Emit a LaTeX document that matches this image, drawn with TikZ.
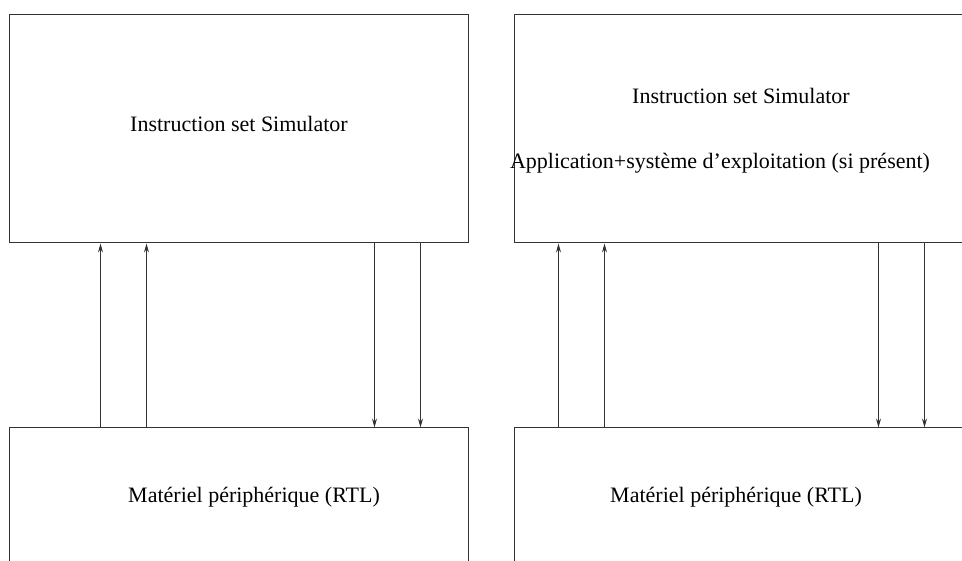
\documentclass[tikz,border=0pt]{standalone}
\usepackage{fontspec}
\setmainfont{Liberation Serif}
\usetikzlibrary{arrows.meta}
\begin{document}
\begin{tikzpicture}[x=1pt, y=-1pt, >={Stealth[length=9pt,width=5pt,inset=3pt]},
    line width=1pt, draw=black!80,
    box/.style={draw=black!80, rectangle, minimum width=459pt, minimum height=228pt, inner sep=0pt},
    lbl/.style={inner sep=0pt, font=\fontsize{22}{26}\selectfont}]
  \useasboundingbox (0,0) rectangle (962,561);
  \clip (0,0) rectangle (962,561);

  % left side
  \node[box] (iss1) at (238.5,129) {};
  \node[box] (rtl1) at (238.5,542) {};
  \node[lbl] (isstxt1) at (239,124) {Instruction set Simulator};
  \node[lbl] (rtltxt1) at (254,497) {Matériel périphérique (RTL)};

  \draw[->] ([xshift=92pt]rtl1.north west) -- ([xshift=92pt]iss1.south west);
  \draw[->] ([xshift=138pt]rtl1.north west) -- ([xshift=138pt]iss1.south west);
  \draw[->] ([xshift=366pt]iss1.south west) -- ([xshift=366pt]rtl1.north west);
  \draw[->] ([xshift=412pt]iss1.south west) -- ([xshift=412pt]rtl1.north west);

  % right side
  \node[box] (iss2) at (743.5,129) {};
  \node[box] (rtl2) at (743.5,542) {};
  \node[lbl] (isstxt2) at (741,96) {Instruction set Simulator};
  \node[lbl] (apptxt2) at (720,163) {Application+système d’exploitation (si présent)};
  \node[lbl] (rtltxt2) at (736,497) {Matériel périphérique (RTL)};

  \draw[->] ([xshift=45pt]rtl2.north west) -- ([xshift=45pt]iss2.south west);
  \draw[->] ([xshift=91pt]rtl2.north west) -- ([xshift=91pt]iss2.south west);
  \draw[->] ([xshift=365pt]iss2.south west) -- ([xshift=365pt]rtl2.north west);
  \draw[->] ([xshift=411pt]iss2.south west) -- ([xshift=411pt]rtl2.north west);
\end{tikzpicture}
\end{document}
